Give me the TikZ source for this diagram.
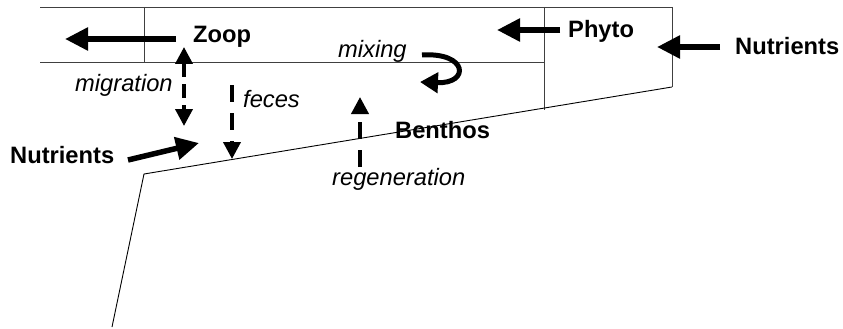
\documentclass[tikz,border=0pt]{standalone}
\usepackage{fontspec}
\setmainfont{Liberation Sans}
\usetikzlibrary{arrows.meta}
\begin{document}
\begin{tikzpicture}[x=1pt,y=-1pt,
  lbl/.style={anchor=base west,inner sep=0pt,font=\fontsize{23.7}{28}\selectfont\bfseries},
  ilbl/.style={anchor=base west,inner sep=0pt,font=\fontsize{23.7}{28}\selectfont\itshape},
  wall/.style={line width=0.9pt,draw=black!75},
  flux/.style={line width=5.5pt,-{Triangle[length=23pt,width=22pt]}},
  dflux/.style={line width=3.8pt,dash pattern=on 17pt off 11pt,-{Triangle[length=17pt,width=17pt]}},
  ddflux/.style={line width=3.8pt,dash pattern=on 14pt off 7pt,{Triangle[length=17pt,width=17pt]}-{Triangle[length=17pt,width=17pt]}}]
\useasboundingbox (0,0) rectangle (843,329);
% basin outline
\draw[wall] (40,7) -- (672,7);
\draw[wall] (40,62) -- (544,62);
\draw[wall] (144,7) -- (144,62);
\draw[wall] (544,7) -- (544,110);
\draw[wall] (672,7) -- (672,87);
\draw[line width=0.9pt] (672,87) -- (144,174) -- (112,327);
% labels
\node[lbl] (zoop) at (193,43) {Zoop};
\node[lbl] (phyto) at (568,38) {Phyto};
\node[lbl] (nutr) at (735,55) {Nutrients};
\node[lbl] (nutl) at (10,163) {Nutrients};
\node[lbl] (benthos) at (395,138) {Benthos};
\node[ilbl] (mixing) at (338,58) {mixing};
\node[ilbl] (migration) at (75,91) {migration};
\node[ilbl] (feces) at (243,107) {feces};
\node[ilbl] (regen) at (332,185) {regeneration};
% coordinates
\coordinate (zoopA) at (176,39); \coordinate (zoopB) at (65,39);
\coordinate (phyA) at (560,30); \coordinate (phyB) at (497,30);
\coordinate (nrA) at (720,47); \coordinate (nrB) at (657,47);
\coordinate (nlA) at (128,160); \coordinate (nlB) at (199,143);
\coordinate (migA) at (184,47); \coordinate (migB) at (184,126);
\coordinate (fecA) at (232,85); \coordinate (fecB) at (232,159);
\coordinate (regA) at (360,167); \coordinate (regB) at (360,97);
\coordinate (mixA) at (422,55); \coordinate (mixB) at (420,82);
% fluxes
\draw[flux] (zoopA) -- (zoopB);
\draw[flux] (phyA) -- (phyB);
\draw[flux] (nrA) -- (nrB);
\draw[flux] (nlA) -- (nlB);
\draw[ddflux] (migA) -- (migB);
\draw[dflux] (fecA) -- (fecB);
\draw[dflux] (regA) -- (regB);
\draw[line width=5pt,-{Triangle[length=18pt,width=20pt]}] (mixA) .. controls (468,52) and (470,84) .. (mixB);
\end{tikzpicture}
\end{document}
